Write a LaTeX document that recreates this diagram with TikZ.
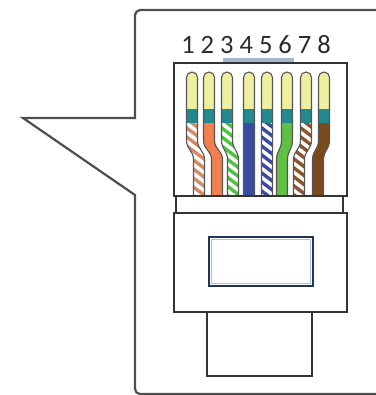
\documentclass[tikz,border=0pt]{standalone}
\usepackage{fontspec}
\newfontfamily\digitfont{Carlito}
\definecolor{calloutgray}{HTML}{4E4E4E}
\definecolor{plugdark}{HTML}{333333}
\definecolor{digitcol}{HTML}{2E2A2A}
\definecolor{keybar}{HTML}{A3B6CC}
\definecolor{wireout}{HTML}{555555}
\definecolor{tipyellow}{HTML}{EEF0A0}
\definecolor{bandteal}{HTML}{22898F}
\definecolor{orstripe}{HTML}{D88A66}
\definecolor{orsolid}{HTML}{F2804F}
\definecolor{grstripe}{HTML}{4CC43E}
\definecolor{grsolid}{HTML}{60C043}
\definecolor{blsolid}{HTML}{3A4BA6}
\definecolor{brstripe}{HTML}{8A5630}
\definecolor{brsolid}{HTML}{7A4A1F}
\definecolor{winnavy}{HTML}{1F3558}
\definecolor{winlight}{HTML}{A9C2E2}
% outline of one conductor: top centre #1, sideways offset of the lower part #2
\newcommand\wireshape[2]{(#1+#2-5.5,196) -- (#1+#2-5.5,160)
  .. controls (#1+#2-5.5,150) and (#1-5.5,150) .. (#1-5.5,140)
  -- (#1-5.5,77.5) .. controls (#1-5.5,74.46) and (#1-3.04,72) .. (#1,72)
  .. controls (#1+3.04,72) and (#1+5.5,74.46) .. (#1+5.5,77.5)
  -- (#1+5.5,140) .. controls (#1+5.5,150) and (#1+#2+5.5,150) .. (#1+#2+5.5,160)
  -- (#1+#2+5.5,196)}
\begin{document}
\begin{tikzpicture}[x=1pt,y=-1pt,
  callout/.style={draw=calloutgray, line width=2.2},
  plugline/.style={draw=plugdark, line width=1.4},
  pinlabel/.style={font=\digitfont\fontsize{26.5}{26.5}\selectfont, text=digitcol,
    inner sep=0pt, anchor=south},
  wireedge/.style={draw=wireout, line width=1.1}]
\useasboundingbox (0,0) rectangle (375,395);

% speech-bubble frame
\draw[callout] (380,10) -- (140,10) .. controls (137.24,10) and (135,12.76) .. (135,15)
  -- (135,118) -- (23,118) -- (135,195) -- (135,389)
  .. controls (135,391.76) and (137.24,394) .. (140,394) -- (380,394);

% pin numbers
\foreach \i [count=\k from 0] in {1,...,8}
  \node[pinlabel] (p\i) at (188+19.43*\k,54) {\i};

% key bar over pins 3-6
\fill[keybar] (223,58) rectangle (294,62);

% conductors: number / top x / offset / base colour / stripe colour
\foreach \n/\x/\d/\b/\c in {1/192/7/white/orstripe, 2/209/8/orsolid/orsolid,
    3/227/6/white/grstripe, 4/249/0/blsolid/blsolid, 5/267/0/white/blsolid,
    6/287/-5/grsolid/grsolid, 7/306/-7/white/brstripe, 8/324/-6/brsolid/brsolid}{
  \begin{scope}
    \clip \wireshape{\x}{\d} -- cycle;
    \fill[\b] (\x-16,123) rectangle (\x+16,200);
    \foreach \k in {0,...,11}
      \draw[\c, line width=3.4] (\x-20,114+9*\k-15) -- (\x+20,114+9*\k+15);
    \fill[tipyellow] (\x-9,60) rectangle (\x+9,109);
    \fill[bandteal] (\x-9,109) rectangle (\x+9,123);
  \end{scope}
  \draw[wireedge] \wireshape{\x}{\d};
}

% plug housing
\draw[plugline] (174,63) rectangle (347,196);
\draw[plugline, fill=white] (176,196) rectangle (343,213);
\draw[plugline, fill=white] (174,213) rectangle (347,312);
\draw[plugline, fill=white] (207,312) rectangle (312,376);

% latch window
\draw[draw=winnavy, line width=2.4, fill=white] (209,237) rectangle (313,286);
\draw[draw=winlight, line width=0.9] (211.8,239.8) rectangle (310.2,283.2);
\end{tikzpicture}
\end{document}
